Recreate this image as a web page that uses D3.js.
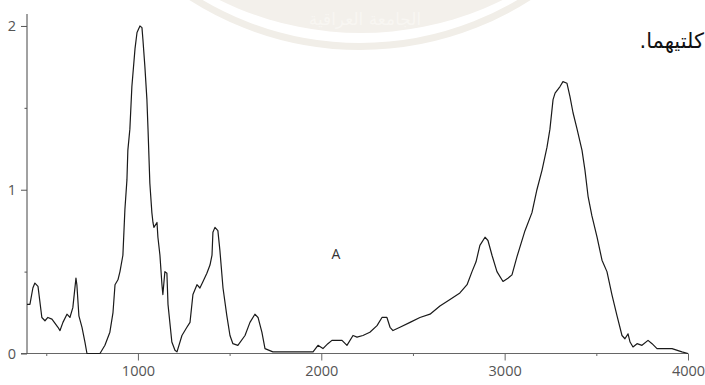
<!DOCTYPE html>
<html>
<head>
<meta charset="utf-8">
<script src="https://cdn.jsdelivr.net/npm/d3@7"></script>
<style>
	html, body { margin: 0; padding: 0; background: #fff; }
	svg { display: block; }
	.tick text { font-family: "Open Sans", sans-serif; font-size: 14.5px; fill: #555; }
</style>
</head>
<body>
<svg id="chart" width="705" height="385"></svg>
<script>
// wavenumber (cm-1) and absorbance
const wavenumbers = [
	395, 411, 427, 438, 455, 476, 493, 509, 531, 564, 575, 591, 613, 629, 645, 662, 667, 678, 695, 711,
	722, 793, 820, 847, 864, 875, 891, 902, 918, 929, 940, 945, 956, 967, 984, 995, 1011, 1022, 1027, 1038,
	1049, 1055, 1065, 1076, 1082, 1087, 1104, 1109, 1120, 1131, 1136, 1147, 1158, 1164, 1185, 1202, 1213, 1240, 1267, 1284,
	1300, 1322, 1338, 1355, 1376, 1393, 1404, 1409, 1420, 1436, 1447, 1464, 1485, 1502, 1518, 1545, 1584, 1611, 1638, 1655,
	1676, 1693, 1736, 1955, 1982, 2009, 2036, 2058, 2113, 2140, 2173, 2195, 2227, 2265, 2304, 2331, 2358, 2375, 2391, 2429,
	2484, 2538, 2593, 2647, 2702, 2756, 2795, 2822, 2844, 2865, 2893, 2909, 2931, 2958, 2991, 3018, 3040, 3067, 3111, 3149,
	3176, 3204, 3231, 3247, 3264, 3275, 3302, 3318, 3340, 3356, 3373, 3395, 3422, 3438, 3455, 3476, 3504, 3531, 3558, 3585,
	3613, 3640, 3656, 3673, 3684, 3700, 3722, 3749, 3782, 3804, 3831, 3875, 3913, 3967, 4000
]
const absorbance = [
	0.30, 0.30, 0.40, 0.43, 0.41, 0.22, 0.20, 0.22, 0.21, 0.16, 0.14, 0.19, 0.24, 0.22, 0.28, 0.46, 0.42, 0.23, 0.16, 0.07,
	0.00, 0.00, 0.05, 0.13, 0.25, 0.42, 0.45, 0.50, 0.60, 0.88, 1.06, 1.24, 1.37, 1.63, 1.86, 1.96, 2.00, 1.99, 1.92, 1.75,
	1.55, 1.37, 1.04, 0.86, 0.80, 0.77, 0.80, 0.71, 0.60, 0.42, 0.36, 0.50, 0.49, 0.30, 0.07, 0.02, 0.01, 0.11, 0.16, 0.19,
	0.36, 0.42, 0.40, 0.44, 0.49, 0.54, 0.60, 0.74, 0.77, 0.75, 0.63, 0.40, 0.23, 0.11, 0.06, 0.05, 0.11, 0.19, 0.24, 0.22,
	0.13, 0.03, 0.01, 0.01, 0.05, 0.03, 0.06, 0.08, 0.08, 0.05, 0.11, 0.10, 0.11, 0.13, 0.17, 0.22, 0.22, 0.16, 0.14, 0.16,
	0.19, 0.22, 0.24, 0.29, 0.33, 0.37, 0.42, 0.50, 0.56, 0.66, 0.71, 0.69, 0.60, 0.50, 0.44, 0.46, 0.48, 0.59, 0.75, 0.86,
	1.00, 1.12, 1.26, 1.37, 1.55, 1.59, 1.63, 1.66, 1.65, 1.57, 1.47, 1.37, 1.24, 1.12, 0.96, 0.84, 0.71, 0.57, 0.50, 0.36,
	0.23, 0.11, 0.09, 0.12, 0.07, 0.04, 0.06, 0.05, 0.08, 0.06, 0.03, 0.03, 0.03, 0.01, 0.00
]
const xTicks = [500, 1000, 1500, 2000, 2500, 3000, 3500, 4000]
const xLabels = [1000, 2000, 3000, 4000]
const yTicks = [0, 0.5, 1, 1.5, 2]
const yLabels = [0, 1, 2]
const curveLabel = {text: "A", x: 2080, y: 0.58}
const pageText = "كلتيهما.\u200F"
const watermarkText = "الجامعة العراقية"

const svg = d3.select("#chart")
const margin = {top: 14, left: 27, right: 17, bottom: 31.5}
const width = 705, height = 385

const x = d3.scaleLinear().domain([395, 4000]).range([margin.left, width - margin.right])
const y = d3.scaleLinear().domain([0, 2.073]).range([height - margin.bottom, margin.top])

// faint watermark from the scanned page
const wm = svg.append("g")
wm.append("circle").attr("cx", 361).attr("cy", -287).attr("r", 320).attr("fill", "#f3f0eb")
wm.append("circle").attr("cx", 360).attr("cy", -266).attr("r", 312.5)
	.attr("fill", "none").attr("stroke", "#f1eee8").attr("stroke-width", 7)
wm.append("text").attr("x", 365).attr("y", 25).attr("text-anchor", "middle")
	.attr("font-family", "DejaVu Sans").attr("font-size", 17).attr("fill", "#f8f6f2")
	.text(watermarkText)

svg.append("text")
	.attr("x", 704).attr("y", 48).attr("text-anchor", "end")
	.attr("font-family", "'DejaVu Sans', sans-serif").attr("font-size", 21).attr("fill", "#111")
	.text(pageText)

// axes
const xAxis = svg.append("g")
	.attr("transform", "translate(0," + y(0) + ")")
	.call(d3.axisBottom(x).tickValues(xTicks)
		.tickSize(0).tickPadding(12)
		.tickFormat(d => xLabels.includes(d) ? d : ""))
xAxis.select(".domain").attr("stroke", "#666").attr("d", "M" + (margin.left - 6) + ",0H" + x(4000))
xAxis.selectAll(".tick line").attr("stroke", "#666")
	.attr("y2", d => xLabels.includes(d) ? 7 : 2.5)

const yAxis = svg.append("g")
	.attr("transform", "translate(" + margin.left + ",0)")
	.call(d3.axisLeft(y).tickValues(yTicks)
		.tickSize(0).tickPadding(11)
		.tickFormat(d => yLabels.includes(d) ? d : ""))
yAxis.select(".domain").attr("stroke", "#444").attr("d", "M0," + y.range()[1] + "V" + y(0))
yAxis.selectAll(".tick line").attr("stroke", "#555")
	.attr("x2", d => yLabels.includes(d) ? -6 : -2.5)

// spectrum
const line = d3.line()
	.x((d, i) => x(wavenumbers[i]))
	.y(d => y(d))
svg.append("path")
	.datum(absorbance)
	.attr("fill", "none")
	.attr("stroke", "#1a1a1a")
	.attr("stroke-width", 1.2)
	.attr("stroke-linejoin", "round")
	.attr("d", line)

svg.append("text")
	.attr("x", x(curveLabel.x)).attr("y", y(curveLabel.y))
	.attr("text-anchor", "middle")
	.attr("font-family", "'Open Sans', sans-serif").attr("font-size", 14).attr("fill", "#333")
	.text(curveLabel.text)
</script>
</body>
</html>
